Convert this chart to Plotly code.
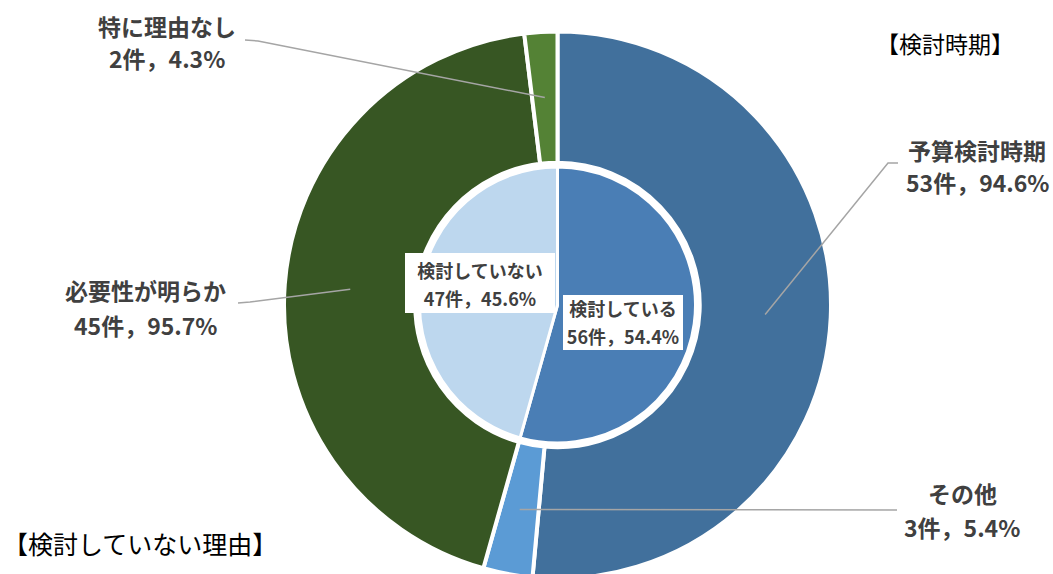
import math
import plotly.graph_objects as go

# Inner pie: whether a review period is being considered
inner_labels = ["検討している", "検討していない"]
inner_counts = [56, 47]
inner_colors = ["#4A7EB5", "#BDD7EE"]

# Outer ring: breakdown of each inner group
outer_labels = ["予算検討時期", "その他", "必要性が明らか", "特に理由なし"]
outer_counts = [53, 3, 45, 2]
outer_groups = [0, 0, 1, 1]  # index into inner groups
outer_colors = ["#41709C", "#5B9BD5", "#375623", "#548235"]

W, H = 1053, 600
CX, CY = 557.5, 305.0      # pie centre in pixels (from top-left)
R_OUT, R_IN = 273.5, 138.0  # ring outer radius, inner pie radius
HOLE = 0.52


def px(x):
    return x / W


def py(y):
    return (H - y) / H


fig = go.Figure()

fig.add_trace(go.Pie(
    labels=outer_labels, values=outer_counts, sort=False,
    direction="clockwise", rotation=0, hole=HOLE,
    marker=dict(colors=outer_colors, line=dict(color="white", width=4)),
    textinfo="none", hoverinfo="skip", showlegend=False,
    domain=dict(x=[px(CX - R_OUT), px(CX + R_OUT)],
                y=[py(CY + R_OUT), py(CY - R_OUT)]),
))

fig.add_trace(go.Pie(
    labels=inner_labels, values=inner_counts, sort=False,
    direction="clockwise", rotation=0,
    marker=dict(colors=inner_colors, line=dict(color="white", width=3)),
    textinfo="none", hoverinfo="skip", showlegend=False,
    domain=dict(x=[px(CX - R_IN), px(CX + R_IN)],
                y=[py(CY + R_IN), py(CY - R_IN)]),
))

# Percentages within each inner group
group_totals = [sum(c for c, g in zip(outer_counts, outer_groups) if g == i)
                for i in range(len(inner_counts))]
outer_pct = [c / group_totals[g] * 100 for c, g in zip(outer_counts, outer_groups)]
inner_pct = [c / sum(inner_counts) * 100 for c in inner_counts]

# Mid-angle anchor of each outer slice (clockwise from 12 o'clock)
total = sum(outer_counts)
r_mid = (R_OUT * HOLE + R_OUT) / 2
anchors = []
cum = 0
for c in outer_counts:
    mid = (cum + c / 2) / total * 2 * math.pi
    anchors.append((CX + r_mid * math.sin(mid), CY - r_mid * math.cos(mid)))
    cum += c

# Label placement: (line1 centre, line2 centre, leader-line start points)
label_layout = [
    ((977, 150), (977, 182), [(898, 163), (888, 163)]),
    ((962, 493), (962, 527), [(897, 510)]),
    ((145, 290), (145, 325), [(238, 303), (250, 302)]),
    ((167, 26), (167, 58), [(245, 40), (258, 41)]),
]

LABEL_FONT = dict(family="Noto Sans CJK JP", size=23, color="#404040")
annotations = []
shapes = []
for i, (l1, l2, pts) in enumerate(label_layout):
    annotations.append(dict(
        x=px(l1[0]), y=py(l1[1]), xref="paper", yref="paper",
        text=f"<b>{outer_labels[i]}</b>", showarrow=False,
        xanchor="center", yanchor="middle", font=LABEL_FONT))
    annotations.append(dict(
        x=px(l2[0]), y=py(l2[1]), xref="paper", yref="paper",
        text=f"<b>{outer_counts[i]}件，{outer_pct[i]:.1f}%</b>", showarrow=False,
        xanchor="center", yanchor="middle", font=LABEL_FONT))
    path_pts = pts + [anchors[i]]
    path = "M " + " L ".join(f"{px(x)},{py(y)}" for x, y in path_pts)
    shapes.append(dict(type="path", xref="paper", yref="paper", path=path,
                       line=dict(color="#A5A5A5", width=1.5)))

# Inner pie labels in white boxes, one annotation per line:
# (centre x, top of box, split y, bottom of box, box width)
inner_boxes = [(623, 295, 322, 350, 118), (480, 253, 284, 313, 148)]
INNER_FONT = dict(family="Noto Sans CJK JP", size=18, color="#404040")
for i, (x, top, mid, bot, w) in enumerate(inner_boxes):
    lines = [f"<b>{inner_labels[i]}</b>",
             f"<b>{inner_counts[i]}件，{inner_pct[i]:.1f}%</b>"]
    spans = [(top, mid, "bottom"), (mid, bot, "top")]
    for text, (y0, y1, va) in zip(lines, spans):
        annotations.append(dict(
            x=px(x), y=py((y0 + y1) / 2), xref="paper", yref="paper",
            text=text, showarrow=False, xanchor="center", yanchor="middle",
            bgcolor="white", borderpad=0, borderwidth=1, bordercolor="white",
            width=w, height=(y1 - y0) - 2, valign=va, font=INNER_FONT))

# Section titles
annotations.append(dict(
    x=px(945), y=py(43), xref="paper", yref="paper", text="【検討時期】",
    showarrow=False, xanchor="center", yanchor="middle",
    font=dict(family="Noto Sans CJK JP", size=23, color="black")))
annotations.append(dict(
    x=px(140), y=py(543), xref="paper", yref="paper", text="【検討していない理由】",
    showarrow=False, xanchor="center", yanchor="middle",
    font=dict(family="Noto Sans CJK JP", size=25, color="black")))

fig.update_layout(
    width=W, height=H,
    margin=dict(l=0, r=0, t=0, b=0),
    paper_bgcolor="white", plot_bgcolor="white",
    annotations=annotations, shapes=shapes,
    showlegend=False,
)

fig.write_html(
    "out.html",
    config={"displayModeBar": False, "staticPlot": True},
    post_script="document.documentElement.style.overflow='hidden';"
                "document.body.style.overflow='hidden';document.body.style.margin='0';",
)
